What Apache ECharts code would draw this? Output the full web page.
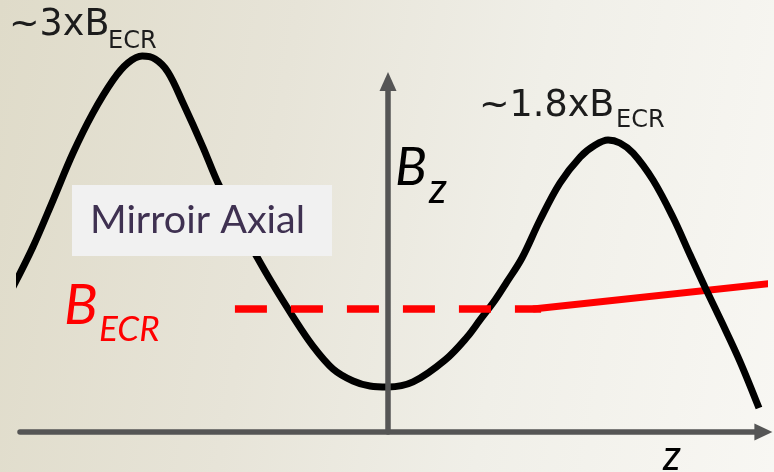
<!DOCTYPE html>
<html>
<head>
<meta charset="utf-8">
<script src="https://cdn.jsdelivr.net/npm/echarts@6/dist/echarts.min.js"></script>
<style>
  html, body { margin: 0; padding: 0; }
  #chart {
    width: 774px; height: 472px;
    background: linear-gradient(100deg, #dfdbc9 0%, #e7e4d8 35%, #f0efe8 65%, #f8f7f3 100%);
  }
</style>
</head>
<body>
<div id="chart"></div>
<script>
// Axial field profile Bz(z), in units of B_ECR (arbitrary z units)
const zCurve = [-10.19, -9.65, -9.10, -8.56, -8.02, -7.47, -7.07, -6.68, -6.33, -5.98, -5.57, -5.03, -4.62, -4.08,
  -3.56, -3.15, -2.61, -2.04, -1.49, -0.95, -0.49, 0.00, 0.68, 1.55, 2.15, 2.50, 2.91, 3.23, 3.64, 4.13, 4.67,
  5.22, 5.63, 5.98, 6.30, 6.66, 7.20, 7.74, 8.21, 8.61, 9.08, 9.57, 10.08];
const bCurve = [1.179, 1.504, 1.886, 2.268, 2.593, 2.862, 3.000, 3.057, 3.033, 2.927, 2.675, 2.317, 2.024, 1.707,
  1.423, 1.211, 0.951, 0.699, 0.512, 0.415, 0.374, 0.366, 0.407, 0.585, 0.772, 0.911, 1.073, 1.220, 1.415, 1.724, 2.024,
  2.236, 2.333, 2.374, 2.350, 2.268, 2.049, 1.748, 1.439, 1.179, 0.886, 0.569, 0.195];

// B_ECR resonance level (dashed) and the tilted solid segment
const ecrDashZ = [-4.16, 4.16];
const ecrDashB = [1.0, 1.0];
const ecrSolidZ = [3.94, 10.65];
const ecrSolidB = [1.0, 1.216];

// axis extents
const zRange = [-10, 10.2];
const bRange = [0, 2.85];

// texts
const peakLeftText = ['~3xB', 'ECR'];
const peakRightText = ['~1.8xB', 'ECR'];
const yAxisText = ['B', 'z'];
const ecrText = ['B', 'ECR'];
const xAxisText = 'z';
const boxText = 'Mirroir Axial';

const pairs = (xs, ys) => xs.map((x, i) => [x, ys[i]]);

const chart = echarts.init(document.getElementById('chart'), null, { renderer: 'canvas' });

const axisColor = '#555555';
const txtDark = '#1c1c1c';

chart.setOption({
  backgroundColor: 'transparent',
  animation: false,
  grid: { left: 20, right: 10.6, top: 81.5, bottom: 40 },
  xAxis: {
    type: 'value', min: zRange[0], max: zRange[1], z: 5,
    axisLine: { show: true, onZero: true, symbol: ['none', 'triangle'], symbolSize: [17, 18],
      lineStyle: { color: axisColor, width: 5.5 } },
    axisTick: { show: false }, axisLabel: { show: false }, splitLine: { show: false }
  },
  yAxis: {
    type: 'value', min: bRange[0], max: bRange[1], z: 5,
    axisLine: { show: true, onZero: true, symbol: ['none', 'triangle'], symbolSize: [17, 19],
      lineStyle: { color: axisColor, width: 5.5 } },
    axisTick: { show: false }, axisLabel: { show: false }, splitLine: { show: false }
  },
  series: [
    {
      type: 'line', z: 1, clip: false, showSymbol: false, symbol: 'none',
      data: pairs(ecrSolidZ, ecrSolidB),
      lineStyle: { color: '#ff0000', width: 7 }
    },
    {
      type: 'line', z: 2, clip: false, showSymbol: false, symbol: 'none', smooth: 0.35,
      data: pairs(zCurve, bCurve),
      lineStyle: { color: '#000000', width: 7 }
    },
    {
      type: 'line', z: 3, clip: false, showSymbol: false, symbol: 'none',
      data: pairs(ecrDashZ, ecrDashB),
      lineStyle: { color: '#ff0000', width: 7.5, type: [32, 24] }
    }
  ],
  graphic: [
    { type: 'rect', z: 100, shape: { x: 72, y: 185, width: 260, height: 71 }, style: { fill: '#f1f1f1' } },
    { type: 'text', z: 101, style: { text: boxText, x: 90, y: 220, font: '39.5px Lato', fill: '#3f3151', verticalAlign: 'middle' } },

    { type: 'text', z: 101, style: { text: peakLeftText[0], x: 9, y: 25.5, font: '36.5px "DejaVu Sans"', fill: txtDark, verticalAlign: 'middle' } },
    { type: 'text', z: 101, style: { text: peakLeftText[1], x: 108, y: 42, font: '24px "DejaVu Sans"', fill: txtDark, verticalAlign: 'middle' } },
    { type: 'text', z: 101, style: { text: peakRightText[0], x: 479, y: 107, font: '36.5px "DejaVu Sans"', fill: txtDark, verticalAlign: 'middle' } },
    { type: 'text', z: 101, style: { text: peakRightText[1], x: 616, y: 120.5, font: '24px "DejaVu Sans"', fill: txtDark, verticalAlign: 'middle' } },

    { type: 'text', z: 101, style: { text: yAxisText[0], x: 395, y: 167.5, font: 'italic 53px Lato', fill: '#000000', verticalAlign: 'middle' } },
    { type: 'text', z: 101, style: { text: yAxisText[1], x: 429, y: 189, font: 'italic 42px Lato', fill: '#000000', verticalAlign: 'middle' } },

    { type: 'text', z: 101, style: { text: ecrText[0], x: 64, y: 306, font: 'italic 56px Lato', fill: '#ff0000', verticalAlign: 'middle' } },
    { type: 'text', z: 101, style: { text: ecrText[1], x: 99, y: 329.5, font: 'italic 35px Lato', fill: '#ff0000', verticalAlign: 'middle' } },

    { type: 'text', z: 101, style: { text: xAxisText, x: 663, y: 456, font: 'italic 42px Lato', fill: '#000000', verticalAlign: 'middle' } }
  ]
});
</script>
</body>
</html>
